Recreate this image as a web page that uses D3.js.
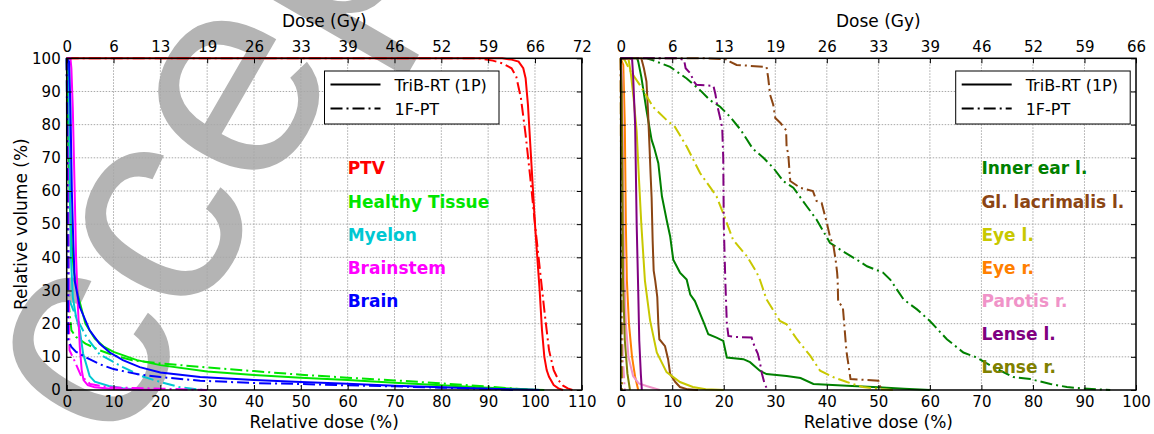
<!DOCTYPE html>
<html>
<head>
<meta charset="utf-8">
<script src="https://cdn.jsdelivr.net/npm/d3@7"></script>
<style>
  body { margin: 0; background: #fff; }
  text { font-family: "DejaVu Sans", sans-serif; }
</style>
</head>
<body>
<svg id="chart" width="1154" height="434"></svg>
<script>
// ---- tick labels ----
const relTicksLeft = [0, 10, 20, 30, 40, 50, 60, 70, 80, 90, 100, 110];
const relTicksRight = [0, 10, 20, 30, 40, 50, 60, 70, 80, 90, 100];
const doseLabelsLeft = ["0", "6", "13", "19", "26", "33", "39", "46", "52", "59", "66", "72"];
const doseLabelsRight = ["0", "6", "13", "19", "26", "33", "39", "46", "52", "59", "66"];
const volTicks = [0, 10, 20, 30, 40, 50, 60, 70, 80, 90, 100];
const legendNames = ["TriB-RT (1P)", "1F-PT"];

// ---- left panel organs ----
const leftOrgans = ["PTV", "Healthy Tissue", "Myelon", "Brainstem", "Brain"];
const ptvSolid = [[0,100],[93,100],[95,99.6],[96.5,99],[97.5,97],[98,94],[98.5,86],[99,74],[99.5,62],[100,50],[100.5,40],[101,30],[101.5,18],[102,10],[102.5,6],[103,4],[104,1.5],[105,0.5],[106,0]];
const ptvDashed = [[0,100],[88,100],[91,99.3],[93,98.5],[95,97],[96,94.5],[97,88],[98,77],[99,64],[100,50],[101,37],[102,24],[103,12],[104,6],[105,3],[106,1.3],[107,0.5],[108,0]];
const healthySolid = [[0,100],[0.3,80],[0.6,60],[1,45],[1.5,36],[2.5,28],[4,20],[6,15.5],[8,13],[10,11.5],[15,9],[20,7.5],[30,5.6],[40,4.5],[50,3.7],[60,3],[70,2.2],[80,1.4],[90,0.7],[100,0.1],[102,0]];
const healthyDashed = [[0,100],[0.2,60],[0.5,25],[1,18],[2,16],[4,14],[7,12],[10,10.5],[14,9],[20,8],[30,6.8],[40,5.7],[50,4.6],[60,3.7],[70,2.9],[80,2],[90,1],[97,0.3],[100,0]];
const myelonSolid = [[0,100],[0.3,99],[0.5,90],[0.7,60],[0.9,40],[1.3,28],[2,22],[2.8,18],[3.5,11],[4.9,4.2],[6,2.5],[9,1.2],[12,0.5],[16,0]];
const myelonDashed = [[0,100],[0.2,80],[0.4,40],[0.6,27],[2,22],[4.2,16],[7,10.8],[12,6.9],[16,4.2],[20,2.4],[24,0.9],[28,0.2],[30,0]];
const brainstemSolid = [[0,100],[0.8,100],[1,97],[1.3,85],[1.7,60],[2,40],[2.4,25],[2.8,13],[3.2,6],[3.6,3],[4.5,1.5],[6,0.8],[10,0.3],[20,0]];
const brainstemDashed = [[0,100],[0.3,60],[0.5,20],[0.6,12],[1.7,8.7],[3.1,4.2],[5,1.8],[9,0.8],[20,0.4],[30,0]];
const brainSolid = [[0,100],[0.5,99],[0.8,85],[1.1,60],[1.4,45],[1.7,33],[2.8,25],[4.9,18],[7,14],[9.2,11.3],[12,9],[15.6,6.9],[20,5.3],[28.5,3.9],[40,3],[50,2.4],[60,1.9],[70,1.3],[80,0.8],[90,0.4],[100,0.05],[101,0]];
const brainDashed = [[0,100],[0.15,60],[0.25,30],[0.3,15],[1,13],[2,11.5],[4.2,9.8],[7,7.8],[10,6.3],[15,4.8],[20,3.9],[28.5,2.8],[40,2.1],[50,1.8],[60,1.4],[70,1.1],[80,0.7],[90,0.3],[96,0]];

// ---- right panel organs ----
const rightOrgans = ["Inner ear l.", "Gl. lacrimalis l.", "Eye l.", "Eye r.", "Parotis r.", "Lense l.", "Lense r."];
const innerEarSolid = [[0,100],[3.2,100],[3.4,99],[4,94.4],[5,84.4],[6,75.4],[6.5,73],[7.3,68.4],[8,58.4],[8.9,51.4],[9.6,46.3],[10.2,39.3],[11.5,35.4],[12.8,33.3],[13.5,28.8],[14.4,26.8],[16,20.8],[17,16.8],[18.6,15.8],[19.9,14.8],[20.6,9.8],[23.8,9.3],[25.1,8.4],[27,5.8],[28.3,4.8],[32.2,4.2],[34.9,3.6],[37.4,1.8],[43.9,1.3],[50,0.8],[55,0.4],[60,0]];
const innerEarDashed = [[0,100],[5,100],[6.3,99.4],[9.6,97.4],[12.8,93.9],[15.4,90.4],[17.3,87.4],[19.3,85.4],[21.2,82.4],[23.3,78.4],[25.6,72.8],[27.7,70],[29.6,67],[31.6,62.9],[33.5,61],[36.1,55.4],[38,51.4],[40.6,44.4],[42.6,42.3],[45.8,39.3],[47.8,37.3],[50.9,35.4],[52.3,33.3],[54.9,27.3],[57.5,24.3],[60,20.8],[63.3,15.3],[66.5,11.3],[69.1,9.8],[72.3,6.9],[76.2,3.9],[79.5,3.3],[83.4,1.8],[86.6,0.9],[89.2,0.5],[95,0]];
const glLacSolid = [[0,100],[4,100],[4.5,97],[5,93],[5.3,84],[5.6,73],[5.8,65],[6,58],[6.2,45],[6.4,36],[6.7,33],[7.1,28],[7.3,20],[7.5,15.3],[8.6,13.2],[9.2,9.3],[9.6,4.8],[10.6,2.4],[11.5,0.9],[13,0.2],[15,0]];
const glLacDashed = [[0,100],[16,100],[20.8,99.7],[21.2,99],[22.5,98],[28.3,97.4],[28.6,94.4],[29,89],[29.6,86],[30,82],[31,80.5],[32.1,78.3],[32.2,73],[32.5,71.4],[32.9,63],[34.8,61],[37.3,60],[38,57],[39,56.4],[40,50.4],[40.6,46.3],[41.3,43.3],[41.7,39.3],[42,35.4],[42.1,33.3],[42.2,26.4],[43.1,25.2],[43.8,11.8],[44.6,3.3],[50,2.8],[50.6,0]];
const eyeLSolid = [[0,100],[1.5,100],[2,95],[2.5,88],[3.1,78],[3.5,65],[4,50],[4.7,33],[5.7,21],[7,11.3],[8.9,5.4],[11.5,2.4],[14,0.9],[16.5,0.2],[20,0]];
const eyeLDashed = [[0,100],[0.3,100],[0.8,99.4],[1.8,96.4],[3.7,92],[6.3,85.3],[8.9,81.4],[10.5,79.4],[12.8,73.4],[15.4,65.4],[18.6,58.4],[20.2,52],[21.8,45.3],[24.5,40.3],[26.4,35.4],[27,33.3],[28.3,27.3],[30.9,20.8],[32.2,19.8],[34.2,15.3],[36.8,10.3],[38.7,5.8],[41.2,3.9],[43.9,2.4],[47,0.9],[50,0.3],[53,0]];
const eyeRSolid = [[0,100],[0.5,98],[0.8,80],[1,50],[1.2,33],[1.6,20],[2.2,10],[2.8,4],[3.4,0]];
const eyeRDashed = [[0,100],[0.1,50],[0.2,0]];
const parotisSolid = [[0,100],[0.3,95],[0.5,60],[0.7,35],[1,20],[1.5,10],[2.4,4.2],[3.5,2],[5,1.2],[7.6,0]];
const parotisDashed = [[0,100],[0.2,50],[0.4,10],[0.8,0]];
const lenseLSolid = [[0,100],[2.2,100],[2.4,95],[2.8,80],[3.1,50],[3.4,30],[3.6,15],[3.9,5],[4.1,0]];
const lenseLDashed = [[0,100],[11,100],[12.3,99.5],[12.6,97],[13.5,95.5],[14.2,93],[14.7,92],[18,91.7],[18.4,89],[18.7,86],[19.3,82],[19.7,79],[19.9,70],[20,50],[20.3,33],[20.6,20],[20.9,16.3],[22,16],[25.4,15.8],[26,13],[26.6,11],[27,8.4],[27.4,5],[27.9,2],[28.5,0]];
const lenseRSolid = [[0,100],[0.2,90],[0.35,60],[0.45,33],[0.8,15],[1.3,5],[1.8,0]];
const lenseRDashed = [[0,100],[0.1,50],[0.2,0]];

// ---- styles ----
const leftColors = ["#ff0000", "#00e600", "#00c8d2", "#ff00ff", "#0000ff"];
const rightColors = ["#008000", "#8b4513", "#c8c800", "#ff8000", "#f093c8", "#800080", "#808000"];
const dashStyle = "12,4,2,4";

const leftCurves = [
  [ptvSolid, ptvDashed], [healthySolid, healthyDashed], [myelonSolid, myelonDashed],
  [brainstemSolid, brainstemDashed], [brainSolid, brainDashed]
];
const rightCurves = [
  [innerEarSolid, innerEarDashed], [glLacSolid, glLacDashed], [eyeLSolid, eyeLDashed],
  [eyeRSolid, eyeRDashed], [parotisSolid, parotisDashed], [lenseLSolid, lenseLDashed],
  [lenseRSolid, lenseRDashed]
];

const svg = d3.select("#chart");
const yTop = 58.3, yBottom = 390;

// watermark sits under the plots
svg.append("text")
  .attr("transform", "translate(22,622) rotate(-60)")
  .style("font-family", "'Liberation Sans', sans-serif")
  .style("font-size", "290px")
  .attr("fill", "#b4b4b4")
  .text("Accepted");

function drawPanel(opts) {
  const x = d3.scaleLinear().domain([0, opts.xmax]).range([opts.x0, opts.x1]);
  const y = d3.scaleLinear().domain([0, 100]).range([yBottom, yTop]);
  const g = svg.append("g");

  // grid
  g.selectAll("line.gx").data(opts.relTicks.slice(1, -1)).enter().append("line")
    .attr("x1", d => x(d)).attr("x2", d => x(d)).attr("y1", yTop).attr("y2", yBottom)
    .attr("stroke", "#a8a8a8").attr("stroke-width", 1).attr("stroke-dasharray", "1.5,1.5");
  g.selectAll("line.gy").data(volTicks.slice(1, -1)).enter().append("line")
    .attr("x1", opts.x0).attr("x2", opts.x1).attr("y1", d => y(d)).attr("y2", d => y(d))
    .attr("stroke", "#a8a8a8").attr("stroke-width", 1).attr("stroke-dasharray", "1.5,1.5");

  // curves
  const line = d3.line().x(d => x(d[0])).y(d => y(d[1]));
  opts.curves.forEach((pair, i) => {
    g.append("path").datum(pair[0]).attr("d", line)
      .attr("fill", "none").attr("stroke", opts.colors[i]).attr("stroke-width", 2);
    g.append("path").datum(pair[1]).attr("d", line)
      .attr("fill", "none").attr("stroke", opts.colors[i]).attr("stroke-width", 2)
      .attr("stroke-dasharray", dashStyle);
  });

  // organ names
  opts.names.forEach((name, i) => {
    g.append("text")
      .attr("x", x(opts.labelX)).attr("y", y(65 - 10 * i))
      .style("font-size", "17px").style("font-weight", "bold")
      .attr("fill", opts.colors[i]).text(name);
  });

  // axes, ticks inward
  const bottom = g.append("g").attr("transform", `translate(0,${yBottom})`)
    .call(d3.axisBottom(x).tickValues(opts.relTicks).tickSizeInner(-5).tickSizeOuter(0).tickPadding(6));
  const top = g.append("g").attr("transform", `translate(0,${yTop})`)
    .call(d3.axisTop(x).tickValues(opts.relTicks).tickFormat((d, i) => opts.doseLabels[i])
      .tickSizeInner(-5).tickSizeOuter(0).tickPadding(6));
  const left = g.append("g").attr("transform", `translate(${opts.x0},0)`)
    .call(d3.axisLeft(y).tickValues(volTicks).tickFormat(opts.showY ? d3.format("d") : "")
      .tickSizeInner(-5).tickSizeOuter(0).tickPadding(6));
  const right = g.append("g").attr("transform", `translate(${opts.x1},0)`)
    .call(d3.axisRight(y).tickValues(volTicks).tickFormat("").tickSizeInner(-5).tickSizeOuter(0));
  [bottom, top, left, right].forEach(a => {
    a.select(".domain").remove();
    a.selectAll("text").style("font-size", "15px").attr("fill", "#000");
    a.selectAll("line").attr("stroke", "#000");
  });

  g.append("rect")
    .attr("x", opts.x0).attr("y", yTop).attr("width", opts.x1 - opts.x0).attr("height", yBottom - yTop)
    .attr("fill", "none").attr("stroke", "#000").attr("stroke-width", 1.5);

  // axis titles
  const cx = (opts.x0 + opts.x1) / 2;
  g.append("text").attr("x", cx).attr("y", 27).attr("text-anchor", "middle")
    .style("font-size", "17px").text("Dose (Gy)");
  g.append("text").attr("x", cx).attr("y", 428).attr("text-anchor", "middle")
    .style("font-size", "17px").text("Relative dose (%)");

  // legend
  const lx = opts.legendX;
  const leg = g.append("g");
  leg.append("rect").attr("x", lx).attr("y", 71).attr("width", 174.5).attr("height", 53)
    .attr("fill", "#fff").attr("stroke", "#000").attr("stroke-width", 1);
  legendNames.forEach((n, i) => {
    const ly = 84.5 + 24 * i;
    leg.append("line").attr("x1", lx + 6).attr("x2", lx + 56).attr("y1", ly).attr("y2", ly)
      .attr("stroke", "#000").attr("stroke-width", 2)
      .attr("stroke-dasharray", i === 1 ? dashStyle : null);
    leg.append("text").attr("x", lx + 70).attr("y", ly + 6)
      .style("font-size", "16px").text(n);
  });
}

drawPanel({
  x0: 66.7, x1: 581.8, xmax: 110, relTicks: relTicksLeft, doseLabels: doseLabelsLeft,
  curves: leftCurves, colors: leftColors, names: leftOrgans, labelX: 60, showY: true, legendX: 324.5
});
drawPanel({
  x0: 620.7, x1: 1136, xmax: 100, relTicks: relTicksRight, doseLabels: doseLabelsRight,
  curves: rightCurves, colors: rightColors, names: rightOrgans, labelX: 70, showY: false, legendX: 955.7
});

svg.append("text")
  .attr("transform", `translate(27,${(yTop + yBottom) / 2}) rotate(-90)`)
  .attr("text-anchor", "middle")
  .style("font-size", "17px")
  .text("Relative volume (%)");
</script>
</body>
</html>
